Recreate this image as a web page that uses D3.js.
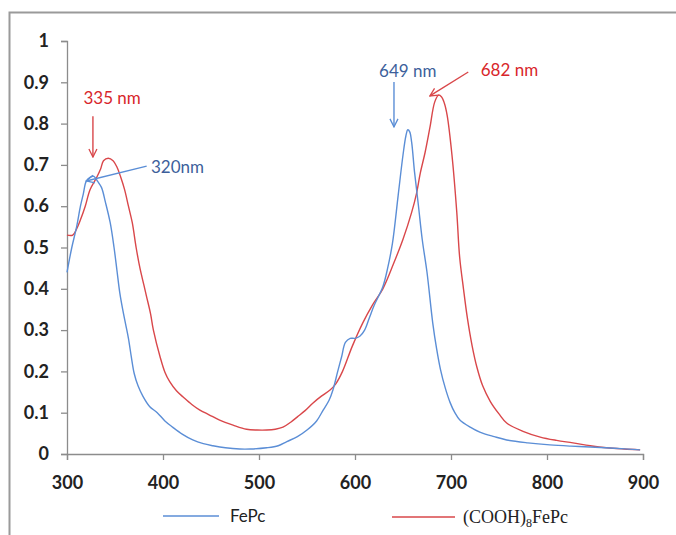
<!DOCTYPE html>
<html>
<head>
<meta charset="utf-8">
<script src="https://cdn.jsdelivr.net/npm/d3@7"></script>
<style>
    body { margin: 0; background: #fff; }
    svg { display: block; }
    .tick text { font-family: Lato, "Open Sans", sans-serif; font-weight: bold; font-size: 18px; fill: #222; }
</style>
</head>
<body>
<svg id="chart" width="676" height="535"></svg>
<script>
// FePc spectrum (wavelength nm, absorbance)
const fepcWl  = [300,305,310,314,317,320,324,328,332,336,340,345,349,352,355,358,361,364,367,370,374,379,386,394,402,410,420,431,442,452,465,480,491,508,520,529,540,550,560,567,573,577,582,586,590,595,600,605,610,615,620,629,634,639,645,650,653,655,657,659,662,666,670,675,681,685,689,694,699,704,709,720,730,745,758,780,803,825,845,870,897];
const fepcAbs = [0.44,0.50,0.55,0.60,0.63,0.66,0.67,0.672,0.66,0.645,0.61,0.56,0.50,0.445,0.39,0.35,0.315,0.28,0.235,0.195,0.165,0.14,0.115,0.10,0.08,0.065,0.048,0.034,0.025,0.02,0.015,0.012,0.012,0.015,0.02,0.03,0.042,0.058,0.08,0.107,0.13,0.155,0.20,0.235,0.27,0.28,0.28,0.285,0.30,0.33,0.36,0.405,0.45,0.51,0.627,0.724,0.77,0.785,0.78,0.755,0.683,0.603,0.52,0.44,0.317,0.255,0.205,0.16,0.125,0.10,0.083,0.065,0.053,0.042,0.034,0.027,0.022,0.019,0.017,0.014,0.01];

// (COOH)8FePc spectrum
const coohWl  = [300,306,310,314,319,324,331,335,338,343,348,352,356,360,364,368,372,376,380,383,387,390,397,402,407,414,421,430,438,448,459,473,487,498,508,517,525,533,540,548,556,565,574,580,587,597,608,618,629,640,650,659,664,668,673,678,683,687,690,693,696,701,706,709,713,717,722,727,733,741,750,758,775,793,810,827,845,862,880,897];
const coohAbs = [0.53,0.53,0.545,0.567,0.60,0.64,0.67,0.69,0.71,0.716,0.71,0.695,0.67,0.64,0.60,0.56,0.50,0.45,0.41,0.38,0.34,0.30,0.235,0.198,0.175,0.153,0.138,0.12,0.107,0.095,0.082,0.07,0.06,0.058,0.058,0.06,0.065,0.077,0.09,0.105,0.123,0.14,0.155,0.17,0.2,0.26,0.317,0.36,0.40,0.46,0.52,0.585,0.63,0.68,0.73,0.79,0.852,0.869,0.865,0.85,0.82,0.724,0.586,0.477,0.40,0.33,0.262,0.21,0.165,0.127,0.097,0.075,0.055,0.041,0.033,0.027,0.02,0.015,0.012,0.01];

const xTicks = [300,400,500,600,700,800,900];
const yTicks = [0,0.1,0.2,0.3,0.4,0.5,0.6,0.7,0.8,0.9,1];

// peak labels: text anchor point, then arrow start -> end (data units)
const notes = [
    {text: "335 nm", color: "#d8262b", arrow: "#d9474a", anchor: "middle", tx: 347, ty: 0.847, x1: 327, y1: 0.818, x2: 327, y2: 0.719},
    {text: "320nm", color: "#3d5f9b", arrow: "#5b8ed6", anchor: "start", tx: 387.5, ty: 0.680, x1: 383, y1: 0.697, x2: 320, y2: 0.661},
    {text: "649 nm", color: "#3d5f9b", arrow: "#5b8ed6", anchor: "middle", tx: 655, ty: 0.913, x1: 640.6, y1: 0.901, x2: 640.6, y2: 0.792},
    {text: "682 nm", color: "#d8262b", arrow: "#d9474a", anchor: "start", tx: 731, ty: 0.915, x1: 718, y1: 0.925, x2: 678, y2: 0.867}
];

const width = 676, height = 535;
const margin = {top: 41, right: 33, bottom: 81, left: 67};

const svg = d3.select('#chart');

// frame around the picture
svg.append('path')
    .attr('d', `M9.5,${height} L9.5,12.5 L${width},12.5`)
    .attr('fill', 'none')
    .attr('stroke', '#9a9a9a')
    .attr('stroke-width', 2);

let x = d3.scaleLinear().domain([300, 900]).range([margin.left, width - margin.right]);
let y = d3.scaleLinear().domain([0, 1]).range([height - margin.bottom, margin.top]);

let gx = svg.append('g')
    .attr('transform', `translate(0,${height - margin.bottom})`)
    .call(d3.axisBottom(x).tickValues(xTicks).tickSize(6).tickPadding(16).tickFormat(d3.format('d')));
let gy = svg.append('g')
    .attr('transform', `translate(${margin.left},0)`)
    .call(d3.axisLeft(y).tickValues(yTicks).tickSize(6).tickPadding(12).tickFormat(d => d === 0 || d === 1 ? String(d) : d3.format('.1f')(d)));
[gx, gy].forEach(g => {
    g.selectAll('.domain, line').attr('stroke', '#8c8c8c').attr('stroke-width', 1.3);
});

let line = d3.line()
    .x(d => x(d[0]))
    .y(d => y(d[1]))
    .curve(d3.curveCatmullRom.alpha(0.5));

svg.append('path')
    .datum(coohWl.map((w, i) => [w, coohAbs[i]]))
    .attr('fill', 'none')
    .attr('stroke', '#d9474a')
    .attr('stroke-width', 1.4)
    .attr('d', line);
svg.append('path')
    .datum(fepcWl.map((w, i) => [w, fepcAbs[i]]))
    .attr('fill', 'none')
    .attr('stroke', '#5b8ed6')
    .attr('stroke-width', 1.4)
    .attr('d', line);

// arrow heads
let defs = svg.append('defs');
['#d9474a', '#5b8ed6'].forEach((c, i) => {
    defs.append('marker')
        .attr('id', 'head' + i)
        .attr('viewBox', '0 0 10 10')
        .attr('refX', 9).attr('refY', 5)
        .attr('markerWidth', 10).attr('markerHeight', 10)
        .attr('markerUnits', 'userSpaceOnUse')
        .attr('orient', 'auto')
        .append('path')
        .attr('d', 'M1,1 L9,5 L1,9')
        .attr('fill', 'none')
        .attr('stroke', c)
        .attr('stroke-width', 1.3);
});

notes.forEach(n => {
    svg.append('line')
        .attr('x1', x(n.x1)).attr('y1', y(n.y1))
        .attr('x2', x(n.x2)).attr('y2', y(n.y2))
        .attr('stroke', n.arrow)
        .attr('stroke-width', 1.4)
        .attr('marker-end', `url(#head${n.arrow === '#d9474a' ? 0 : 1})`);
    svg.append('text')
        .attr('x', x(n.tx)).attr('y', y(n.ty))
        .attr('text-anchor', n.anchor)
        .attr('fill', n.color)
        .style('font-family', 'Lato, "Open Sans", sans-serif')
        .style('font-size', '17px')
        .text(n.text);
});

// legend
let legendY = 516;
svg.append('line')
    .attr('x1', 163).attr('x2', 219).attr('y1', legendY).attr('y2', legendY)
    .attr('stroke', '#5b8ed6').attr('stroke-width', 1.6);
svg.append('text')
    .attr('x', 230).attr('y', legendY + 6)
    .attr('fill', '#222')
    .style('font-family', 'Lato, "Open Sans", sans-serif')
    .style('font-size', '17px')
    .text('FePc');
svg.append('line')
    .attr('x1', 392).attr('x2', 455).attr('y1', legendY + 1).attr('y2', legendY + 1)
    .attr('stroke', '#d9474a').attr('stroke-width', 1.6);
let lt = svg.append('text')
    .attr('x', 463).attr('y', legendY + 7)
    .attr('fill', '#222')
    .style('font-family', '"Liberation Serif", "DejaVu Serif", serif')
    .style('font-size', '18px');
lt.append('tspan').text('(COOH)');
lt.append('tspan').attr('dy', 4).style('font-size', '12px').text('8');
lt.append('tspan').attr('dy', -4).text('FePc');
</script>
</body>
</html>
